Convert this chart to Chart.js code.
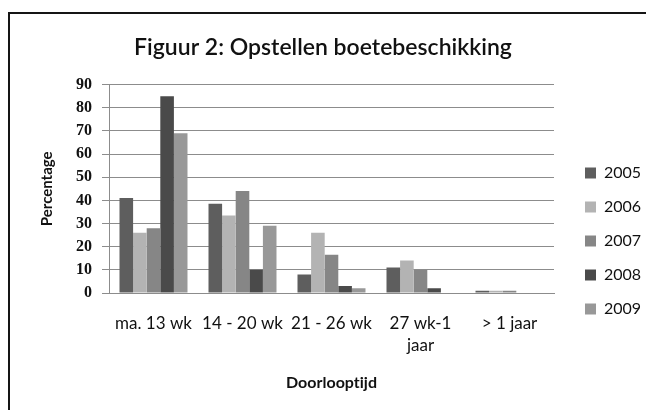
<!DOCTYPE html>
<html>
<head>
<meta charset="utf-8">
<script src="https://cdn.jsdelivr.net/npm/chart.js@4/dist/chart.umd.min.js"></script>
<style>
  html, body { margin: 0; padding: 0; background: #fff; overflow: hidden; }
  #wrap { position: relative; width: 646px; height: 410px; overflow: hidden; }
  #frame { position: absolute; left: 8px; top: 12px; width: 700px; height: 500px; border: 2px solid #151515; box-sizing: border-box; }
  canvas { position: absolute; left: 0; top: 0; }
</style>
</head>
<body>
<div id="wrap">
  <div id="frame"></div>
  <canvas id="c" width="646" height="410"></canvas>
</div>
<script>
const categories = ['ma. 13 wk', '14 - 20 wk', '21 - 26 wk', ['27 wk-1', 'jaar'], '> 1 jaar'];
const years = ['2005', '2006', '2007', '2008', '2009'];
const v2005 = [41, 38.5, 8, 11, 1];
const v2006 = [26, 33.5, 26, 14, 1];
const v2007 = [28, 44, 16.5, 10, 1];
const v2008 = [85, 10, 3, 2, 0];
const v2009 = [69, 29, 2, 0, 0];
const yTicks = [0, 10, 20, 30, 40, 50, 60, 70, 80, 90];
const colors = ['#5e5e5e', '#b3b3b3', '#868686', '#4a4a4a', '#989898'];

const series = [v2005, v2006, v2007, v2008, v2009];
const datasets = series.map((d, i) => ({
  label: years[i],
  data: d,
  backgroundColor: colors[i],
  borderWidth: 0,
  barPercentage: 1.0,
  categoryPercentage: 0.764
}));

const gridColor = '#8c8c8c';

new Chart(document.getElementById('c'), {
  type: 'bar',
  data: { labels: categories, datasets },
  options: {
    responsive: false,
    animation: false,
    layout: { padding: { left: 0, right: 0, top: 0, bottom: 0 } },
    plugins: {
      tooltip: { enabled: false },
      title: {
        display: true,
        text: 'Figuur 2: Opstellen boetebeschikking',
        color: '#111',
        font: { family: 'Lato', size: 23, weight: '600', lineHeight: 1.2 },
        padding: { top: 34, bottom: 23 }
      },
      legend: {
        display: true,
        position: 'right',
        align: 'center',
        maxWidth: 79,
        title: { display: true, text: ' ', font: { size: 10, lineHeight: 1.2 }, padding: 30 },
        labels: {
          boxWidth: 11,
          boxHeight: 11,
          padding: 18,
          color: '#111',
          font: { family: 'Lato', size: 16 }
        }
      }
    },
    scales: {
      x: {
        grid: { display: false, drawTicks: false },
        border: { display: true, color: gridColor, width: 1 },
        ticks: {
          color: '#111',
          padding: 19,
          maxRotation: 0,
          autoSkip: false,
          font: { family: 'Lato', size: 17, lineHeight: 1.3 }
        },
        title: {
          display: true,
          text: 'Doorloopt\u200Cijd',
          color: '#111',
          font: { family: 'Lato', size: 16, weight: 'bold', lineHeight: 1.2 },
          padding: { top: 0, bottom: 18 }
        },
        afterFit(s) { s.height = 117; }
      },
      y: {
        min: 0,
        max: 90,
        afterBuildTicks(s) { s.ticks = yTicks.map(v => ({ value: v })); },
        grid: { color: gridColor, lineWidth: 1, drawTicks: true, tickLength: 7 },
        border: { display: true, color: gridColor, width: 1 },
        ticks: {
          color: '#111',
          padding: 10,
          font: { family: 'Liberation Serif', size: 16, weight: 'bold' }
        },
        title: {
          display: true,
          text: 'Percentage',
          color: '#111',
          font: { family: 'Lato', size: 15, weight: 'bold', lineHeight: 1.2 },
          padding: { top: 38, bottom: 0 }
        },
        afterFit(s) { s.width = 109; }
      },
      spacer: {
        position: 'right',
        display: true,
        grid: { display: false, drawTicks: false },
        border: { display: false },
        ticks: { display: false },
        afterFit(s) { s.width = 13; }
      }
    }
  }
});
</script>
</body>
</html>
